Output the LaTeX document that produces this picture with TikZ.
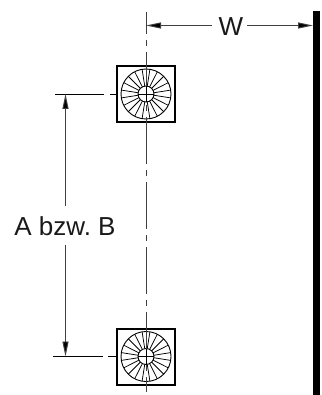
\documentclass[tikz,border=0pt]{standalone}
\usepackage{fontspec}
\setmainfont{Liberation Sans}
\usetikzlibrary{arrows.meta}
\tikzset{
  frame/.style={draw=black,line width=2pt},
  fine/.style={draw=black,line width=0.9pt},
  dimr/.style={draw=black!75,line width=0.9pt,-{Triangle[length=15pt,width=6pt,fill=black]}},
  centre/.style={draw=black!75,line width=1pt,dash pattern=on 47pt off 6pt on 6pt off 6pt,dash phase=25pt},
  lbl/.style={font=\fontsize{26pt}{28pt}\selectfont,inner sep=0pt,text=black!90}
}
\newcommand{\fan}[3]{%
  \node[frame,minimum width=58pt,minimum height=56pt,inner sep=0pt] (#3) at (#1,#2) {};
  \draw[fine] (#1,#2) circle (25pt);
  \draw[fine] (#1,#2) circle (8pt);
  \foreach \a in {9,27,...,351}{\draw[fine,line width=0.75pt] (#1,#2) ++(\a:8pt) -- ++(\a:17pt);}
}
\frenchspacing
\begin{document}
\begin{tikzpicture}[x=1pt,y=-1pt]
\useasboundingbox (0,0) rectangle (321,395);
\fan{146}{94}{fanA}
\fan{146}{356.5}{fanB}
\coordinate (ctop) at (146,12);
\coordinate (cbot) at (146,392);
\draw[centre] (ctop) -- (cbot);
\draw[fine] (146,86) -- (146,102) (138,94) -- (154,94);
\draw[fine] (146,348.5) -- (146,364.5) (138,356.5) -- (154,356.5);
\node[fill=black,minimum width=7pt,minimum height=384pt,inner sep=0pt] (wall) at (316.7,203) {};
\coordinate (wl) at (146,25.5);
\coordinate (wr) at (wall.west |- wl);
\node[lbl] (w) at (231,27) {W};
\draw[dimr] (212,25.5) -- (wl);
\draw[dimr] (247,25.5) -- (wr);
\coordinate (exA) at (55,94);
\coordinate (exA2) at (104,94);
\coordinate (exA3) at (110,94);
\coordinate (exB) at (53,356.5);
\coordinate (exB2) at (103,356.5);
\coordinate (exB3) at (108,356.5);
\draw[fine] (exA) -- (exA2) (exA3) -- (fanA.west) (exB) -- (exB2) (exB3) -- (fanB.west);
\node[lbl] (ab) at (65,226.5) {A bzw. B};
\coordinate (aT) at (65.5,94);
\coordinate (aB) at (65.5,356.5);
\draw[dimr] (65.5,206) -- (aT);
\draw[dimr] (65.5,245) -- (aB);
\end{tikzpicture}
\end{document}
